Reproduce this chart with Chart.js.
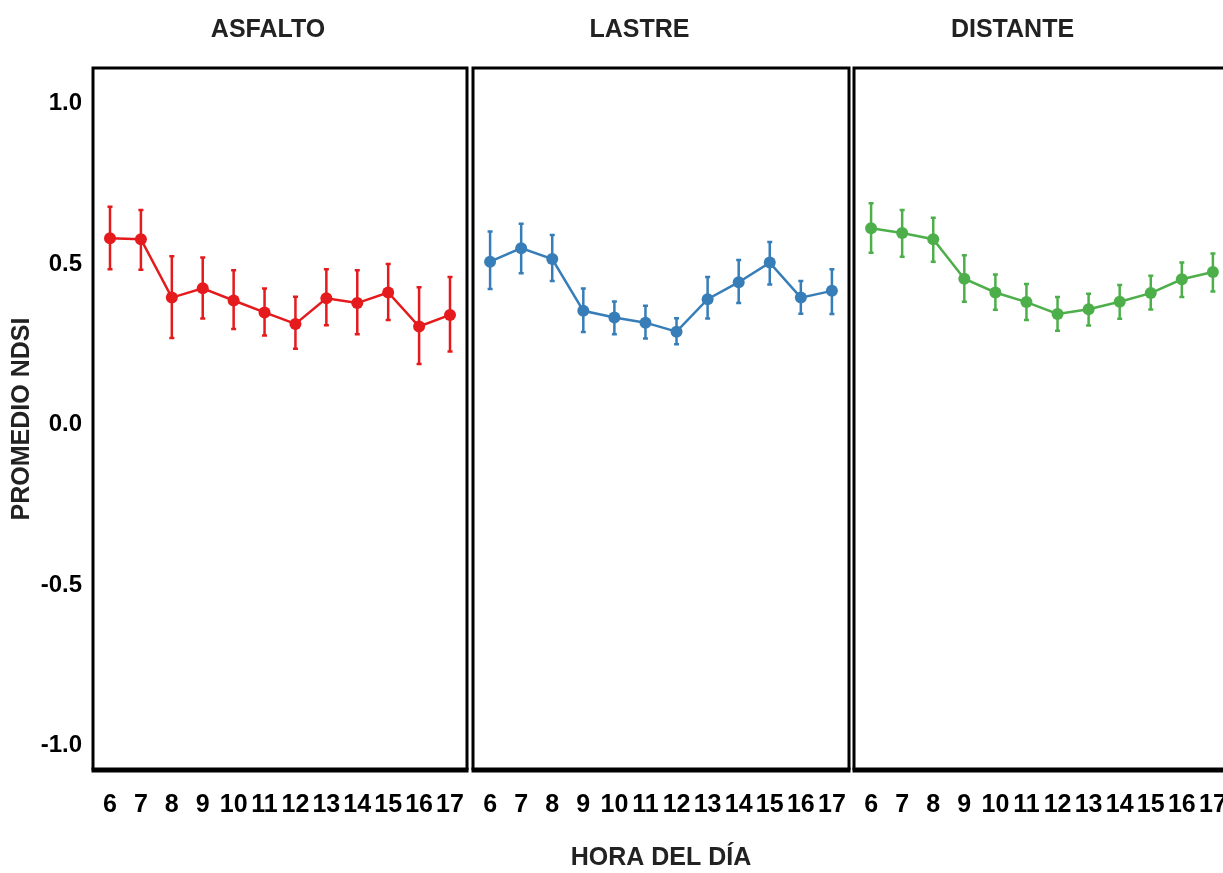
<!DOCTYPE html>
<html>
<head>
<meta charset="utf-8">
<script src="https://cdn.jsdelivr.net/npm/chart.js@4"></script>
<style>
  body { margin: 0; background: #fff; width: 1223px; height: 873px; overflow: hidden; position: relative; }
  canvas { position: absolute; top: 0; }
</style>
</head>
<body>
<canvas id="graficoAsfalto" width="536" height="873" style="left:0px"></canvas>
<canvas id="graficoLastre" width="425" height="873" style="left:427px"></canvas>
<canvas id="graficoDistante" width="441" height="873" style="left:792px"></canvas>
<script>
// Datos
const horas = [6, 7, 8, 9, 10, 11, 12, 13, 14, 15, 16, 17];
const yTicks = [-1, -0.5, 0, 0.5, 1];

const asfaltoMedia = [0.580, 0.577, 0.395, 0.424, 0.386, 0.349, 0.313, 0.393, 0.378, 0.411, 0.305, 0.341];
const asfaltoSup   = [0.678, 0.668, 0.524, 0.520, 0.480, 0.423, 0.398, 0.483, 0.480, 0.500, 0.427, 0.459];
const asfaltoInf   = [0.483, 0.482, 0.269, 0.330, 0.297, 0.277, 0.236, 0.309, 0.281, 0.325, 0.188, 0.227];

const lastreMedia = [0.507, 0.549, 0.515, 0.354, 0.333, 0.317, 0.289, 0.390, 0.443, 0.504, 0.395, 0.416];
const lastreSup   = [0.601, 0.625, 0.590, 0.423, 0.383, 0.370, 0.331, 0.459, 0.512, 0.568, 0.447, 0.483];
const lastreInf   = [0.422, 0.471, 0.447, 0.288, 0.281, 0.268, 0.250, 0.330, 0.378, 0.436, 0.345, 0.344];

const distanteMedia = [0.611, 0.596, 0.577, 0.454, 0.411, 0.381, 0.344, 0.359, 0.382, 0.409, 0.452, 0.475];
const distanteSup   = [0.689, 0.668, 0.644, 0.527, 0.467, 0.437, 0.397, 0.407, 0.434, 0.463, 0.504, 0.532];
const distanteInf   = [0.535, 0.522, 0.507, 0.382, 0.357, 0.325, 0.292, 0.308, 0.329, 0.358, 0.397, 0.414];

const fuente = "'Liberation Sans', Arial, sans-serif";

// barras de error (intervalo) dibujadas con las escalas del gráfico
const barrasError = {
    id: 'barrasError',
    beforeDatasetsDraw(chart, args, opts) {
        const ctx = chart.ctx;
        const x = chart.scales.x, y = chart.scales.y;
        ctx.save();
        ctx.strokeStyle = opts.color;
        ctx.lineWidth = 2.5;
        horas.forEach((h, i) => {
            const px = x.getPixelForValue(h);
            const yTop = y.getPixelForValue(opts.sup[i]);
            const yBot = y.getPixelForValue(opts.inf[i]);
            ctx.beginPath();
            ctx.moveTo(px, yTop); ctx.lineTo(px, yBot);
            ctx.moveTo(px - 2.5, yTop); ctx.lineTo(px + 2.5, yTop);
            ctx.moveTo(px - 2.5, yBot); ctx.lineTo(px + 2.5, yBot);
            ctx.stroke();
        });
        ctx.restore();
    }
};

// marco negro de cada panel
const marcoPanel = {
    id: 'marcoPanel',
    afterDraw(chart) {
        const ctx = chart.ctx;
        const a = chart.chartArea;
        ctx.save();
        ctx.strokeStyle = '#000';
        ctx.lineWidth = 3;
        ctx.beginPath();
        ctx.moveTo(a.left, a.bottom);
        ctx.lineTo(a.left, a.top);
        ctx.lineTo(a.right, a.top);
        ctx.lineTo(a.right, a.bottom);
        ctx.stroke();
        ctx.lineWidth = 5;
        ctx.beginPath();
        ctx.moveTo(a.left - 1.5, a.bottom);
        ctx.lineTo(a.right + 1.5, a.bottom);
        ctx.stroke();
        ctx.restore();
    }
};

// anchoIzq / anchoDer: espacio reservado a cada lado del área del panel
function crearPanel(id, titulo, color, media, inf, sup, conEjeY, conTituloX, anchoIzq, anchoDer) {
    const ctx = document.getElementById(id).getContext('2d');
    return new Chart(ctx, {
        type: 'line',
        data: {
            datasets: [{
                data: horas.map((h, i) => ({ x: h, y: media[i] })),
                borderColor: color,
                backgroundColor: color,
                borderWidth: 2.5,
                pointRadius: 6,
                pointBorderWidth: 0,
                tension: 0
            }]
        },
        options: {
            responsive: false,
            animation: false,
            layout: { padding: 0, autoPadding: false },
            plugins: {
                legend: { display: false },
                tooltip: { enabled: false },
                title: {
                    display: true,
                    text: titulo,
                    color: '#222',
                    font: { family: fuente, size: 25, weight: 'bold' },
                    padding: { top: 15, bottom: 23 }
                },
                barrasError: { color: color, inf: inf, sup: sup }
            },
            scales: {
                x: {
                    type: 'linear',
                    min: 5.45,
                    max: 17.55,
                    grid: { display: false, drawTicks: false },
                    border: { display: false },
                    afterBuildTicks: s => { s.ticks = horas.map(v => ({ value: v })); },
                    afterFit: s => { s.height = 103; s.paddingLeft = 0; s.paddingRight = 0; },
                    ticks: {
                        color: '#000',
                        padding: 20,
                        maxRotation: 0,
                        autoSkip: false,
                        font: { family: fuente, size: 25, weight: 'bold' }
                    },
                    title: {
                        display: conTituloX,
                        text: 'HORA DEL DÍA',
                        color: '#222',
                        font: { family: fuente, size: 25, weight: 'bold' },
                        padding: { top: 0, bottom: 0 }
                    }
                },
                y: {
                    display: conEjeY,
                    min: -1.076,
                    max: 1.11,
                    grid: { display: false, drawTicks: false },
                    border: { display: false },
                    afterBuildTicks: s => { s.ticks = yTicks.map(v => ({ value: v })); },
                    afterFit: s => { s.width = anchoIzq; s.paddingTop = 0; s.paddingBottom = 0; },
                    ticks: {
                        color: '#000',
                        padding: 11,
                        font: { family: fuente, size: 24, weight: 'bold' },
                        callback: v => v.toFixed(1)
                    },
                    title: {
                        display: true,
                        text: 'PROMEDIO NDSI',
                        color: '#222',
                        font: { family: fuente, size: 25, weight: 'bold' },
                        padding: { top: 7, bottom: 7 }
                    }
                },
                y2: {
                    display: false,
                    position: 'right',
                    min: -1.076,
                    max: 1.11,
                    afterFit: s => { s.width = anchoDer; }
                }
            }
        },
        plugins: [barrasError, marcoPanel]
    });
}

crearPanel('graficoAsfalto', 'ASFALTO', '#e41a1c', asfaltoMedia, asfaltoInf, asfaltoSup, true, false, 93, 69);
crearPanel('graficoLastre', 'LASTRE', '#377eb8', lastreMedia, lastreInf, lastreSup, false, true, 46, 3);
crearPanel('graficoDistante', 'DISTANTE', '#4daf4a', distanteMedia, distanteInf, distanteSup, false, false, 62, 3);
</script>
</body>
</html>
